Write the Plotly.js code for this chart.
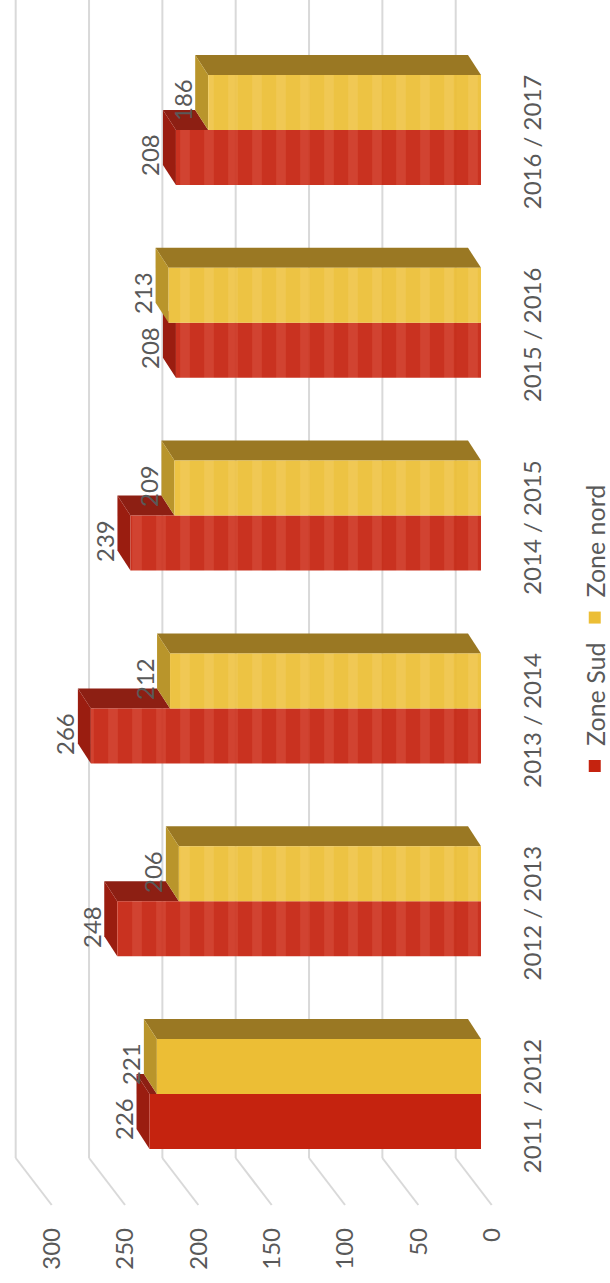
<!DOCTYPE html>
<html><head><meta charset="utf-8">
<script src="https://cdn.plot.ly/plotly-3.0.1.min.js"></script>
<style>
html,body{margin:0;padding:0;width:610px;height:1283px;overflow:hidden;background:#fff;}
#chart{position:absolute;left:0;top:0;width:1283px;height:610px;transform-origin:0 0;transform:translate(0,1283px) rotate(-90deg);}
</style></head><body><div id="chart"></div>
<script>
// ---- data ----
const categories = ['2011 / 2012', '2012 / 2013', '2013 / 2014', '2014 / 2015', '2015 / 2016', '2016 / 2017'];
const zoneSud  = [226, 248, 266, 239, 208, 208];
const zoneNord = [221, 206, 212, 209, 213, 186];
const seriesNames = ['Zone Sud', 'Zone nord'];
const valueTicks = [0, 50, 100, 150, 200, 250, 300];

// ---- geometry (chart drawn unrotated, then the page turns it) ----
const W = 1283, H = 610;
const M = {l: 60, r: 0, t: 5, b: 110};
const PX_CAT = 192.8, CAT0_PX = 189, PX_VAL = 1.4667, BASE_PX = 481;
const xRange = [(M.l - CAT0_PX) / PX_CAT, (W - M.r - CAT0_PX) / PX_CAT];
const yRange = [(BASE_PX - (H - M.b)) / PX_VAL, (BASE_PX - M.t) / PX_VAL];
const BARW = 55 / PX_CAT;
const DX = 20 / PX_CAT, DV = 13 / PX_VAL;
const BACK_X = (125 - CAT0_PX) / PX_CAT, BACK_V = (BASE_PX - 455.7) / PX_VAL;
const FRONT_X = (78 - CAT0_PX) / PX_CAT, FRONT_V = (BASE_PX - 491.7) / PX_VAL;

const TXT = '#595959', GRID = '#d9d9d9';
const FONT = 'Lato, "Open Sans", sans-serif';
const front = ['#c5230f', '#ecbe35'];
const stripe = ['#e36a55', '#f6d67a'];
const topFace = ['#9a1d10', '#b9952b'];
const sideFace = ['#8d1f13', '#9a7823'];
const opac = categories.map((c, i) => i === 0 ? 1 : 0.93);
const stripes = categories.map((c, i) => i === 0 ? '' : '-');

const shapes = [];
valueTicks.forEach(v => {
  shapes.push({type: 'line', xref: 'x', yref: 'y', layer: 'below',
    x0: BACK_X, x1: xRange[1], y0: v + BACK_V, y1: v + BACK_V, line: {color: GRID, width: 2}});
  shapes.push({type: 'line', xref: 'x', yref: 'y', layer: 'below',
    x0: FRONT_X, x1: BACK_X, y0: v + FRONT_V, y1: v + BACK_V, line: {color: GRID, width: 2}});
});
const P = (pts) => 'M' + pts.map(p => p[0] + ',' + p[1]).join('L') + 'Z';
categories.forEach((c, i) => {
  const vals = [zoneSud[i], zoneNord[i]];
  for (let s = 0; s < 2; s++) {
    const x0 = i - BARW + s * BARW, x1 = x0 + BARW, v = vals[s];
    let topPts = [[x0, v], [x1, v], [x1 + DX, v + DV], [x0 + DX, v + DV]];
    if (s === 0) {
      const vy = vals[1];
      if (v > vy) shapes.push({type: 'path', xref: 'x', yref: 'y', layer: 'below',
        fillcolor: sideFace[0], line: {width: 0},
        path: P([[x1, vy], [x1, v], [x1 + DX, v + DV], [x1 + DX, vy + DV]])});
      else if (vy < v + DV) topPts = [[x0, v], [x1, v], [x1, vy], [x1 + DX * (vy - v) / DV, vy], [x1 + DX, v + DV], [x0 + DX, v + DV]];
      else topPts = [[x0, v], [x1, v], [x1, v + DV], [x0 + DX, v + DV]];
    } else {
      shapes.push({type: 'path', xref: 'x', yref: 'y', layer: 'below',
        fillcolor: sideFace[1], line: {width: 0},
        path: P([[x1, 0], [x1 + DX, DV], [x1 + DX, v + DV], [x1, v]])});
    }
    shapes.push({type: 'path', xref: 'x', yref: 'y', layer: 'below',
      fillcolor: topFace[s], line: {width: 0}, path: P(topPts)});
  }
});

const annotations = [];
[zoneSud, zoneNord].forEach((arr, s) => arr.forEach((v, i) => {
  annotations.push({xref: 'x', yref: 'y', x: i - BARW / 2 + s * BARW, y: v, text: String(v),
    showarrow: false, yanchor: 'middle', xanchor: 'center', yshift: 26, xshift: 2,
    font: {family: FONT, size: 24, color: TXT}});
}));

const traces = [zoneSud, zoneNord].map((arr, s) => ({
  type: 'bar', name: seriesNames[s], x: categories, y: arr, hoverinfo: 'skip',
  marker: {color: front[s], opacity: opac, line: {width: 0},
    pattern: {shape: stripes, fillmode: 'overlay', fgcolor: stripe[s], fgopacity: 0.25, size: 24, solidity: 0.4}}
}));
// carrier for the value-axis labels
traces.push({type: 'scatter', mode: 'markers', x: [categories[0]], y: [null], yaxis: 'y2',
  showlegend: false, hoverinfo: 'skip'});

const layout = {
  width: W, height: H, margin: M,
  paper_bgcolor: '#fff', plot_bgcolor: 'rgba(0,0,0,0)',
  font: {family: FONT, size: 24, color: TXT},
  barmode: 'group', bargap: 1 - 2 * BARW, bargroupgap: 0,
  showlegend: true,
  legend: {orientation: 'h', xref: 'container', yref: 'container', x: 497 / W, y: 1 - 595 / H,
    xanchor: 'left', yanchor: 'middle', font: {family: FONT, size: 25, color: TXT}, bgcolor: 'rgba(0,0,0,0)'},
  xaxis: {type: 'category', range: xRange, showgrid: false, zeroline: false, showline: false, ticks: '',
    tickfont: {family: FONT, size: 24, color: TXT}, ticklabelshift: -12, ticklabelstandoff: 16},
  yaxis: {range: yRange, showgrid: false, zeroline: false, showline: false, showticklabels: false, ticks: ''},
  yaxis2: {overlaying: 'y', side: 'left', range: [yRange[0] - FRONT_V, yRange[1] - FRONT_V],
    tickmode: 'array', tickvals: valueTicks, showgrid: false, zeroline: false, showline: false, ticks: '',
    ticklabelstandoff: 4, tickfont: {family: FONT, size: 24, color: TXT}},
  shapes: shapes, annotations: annotations
};
Plotly.newPlot('chart', traces, layout, {staticPlot: true, displayModeBar: false});
</script></body></html>
